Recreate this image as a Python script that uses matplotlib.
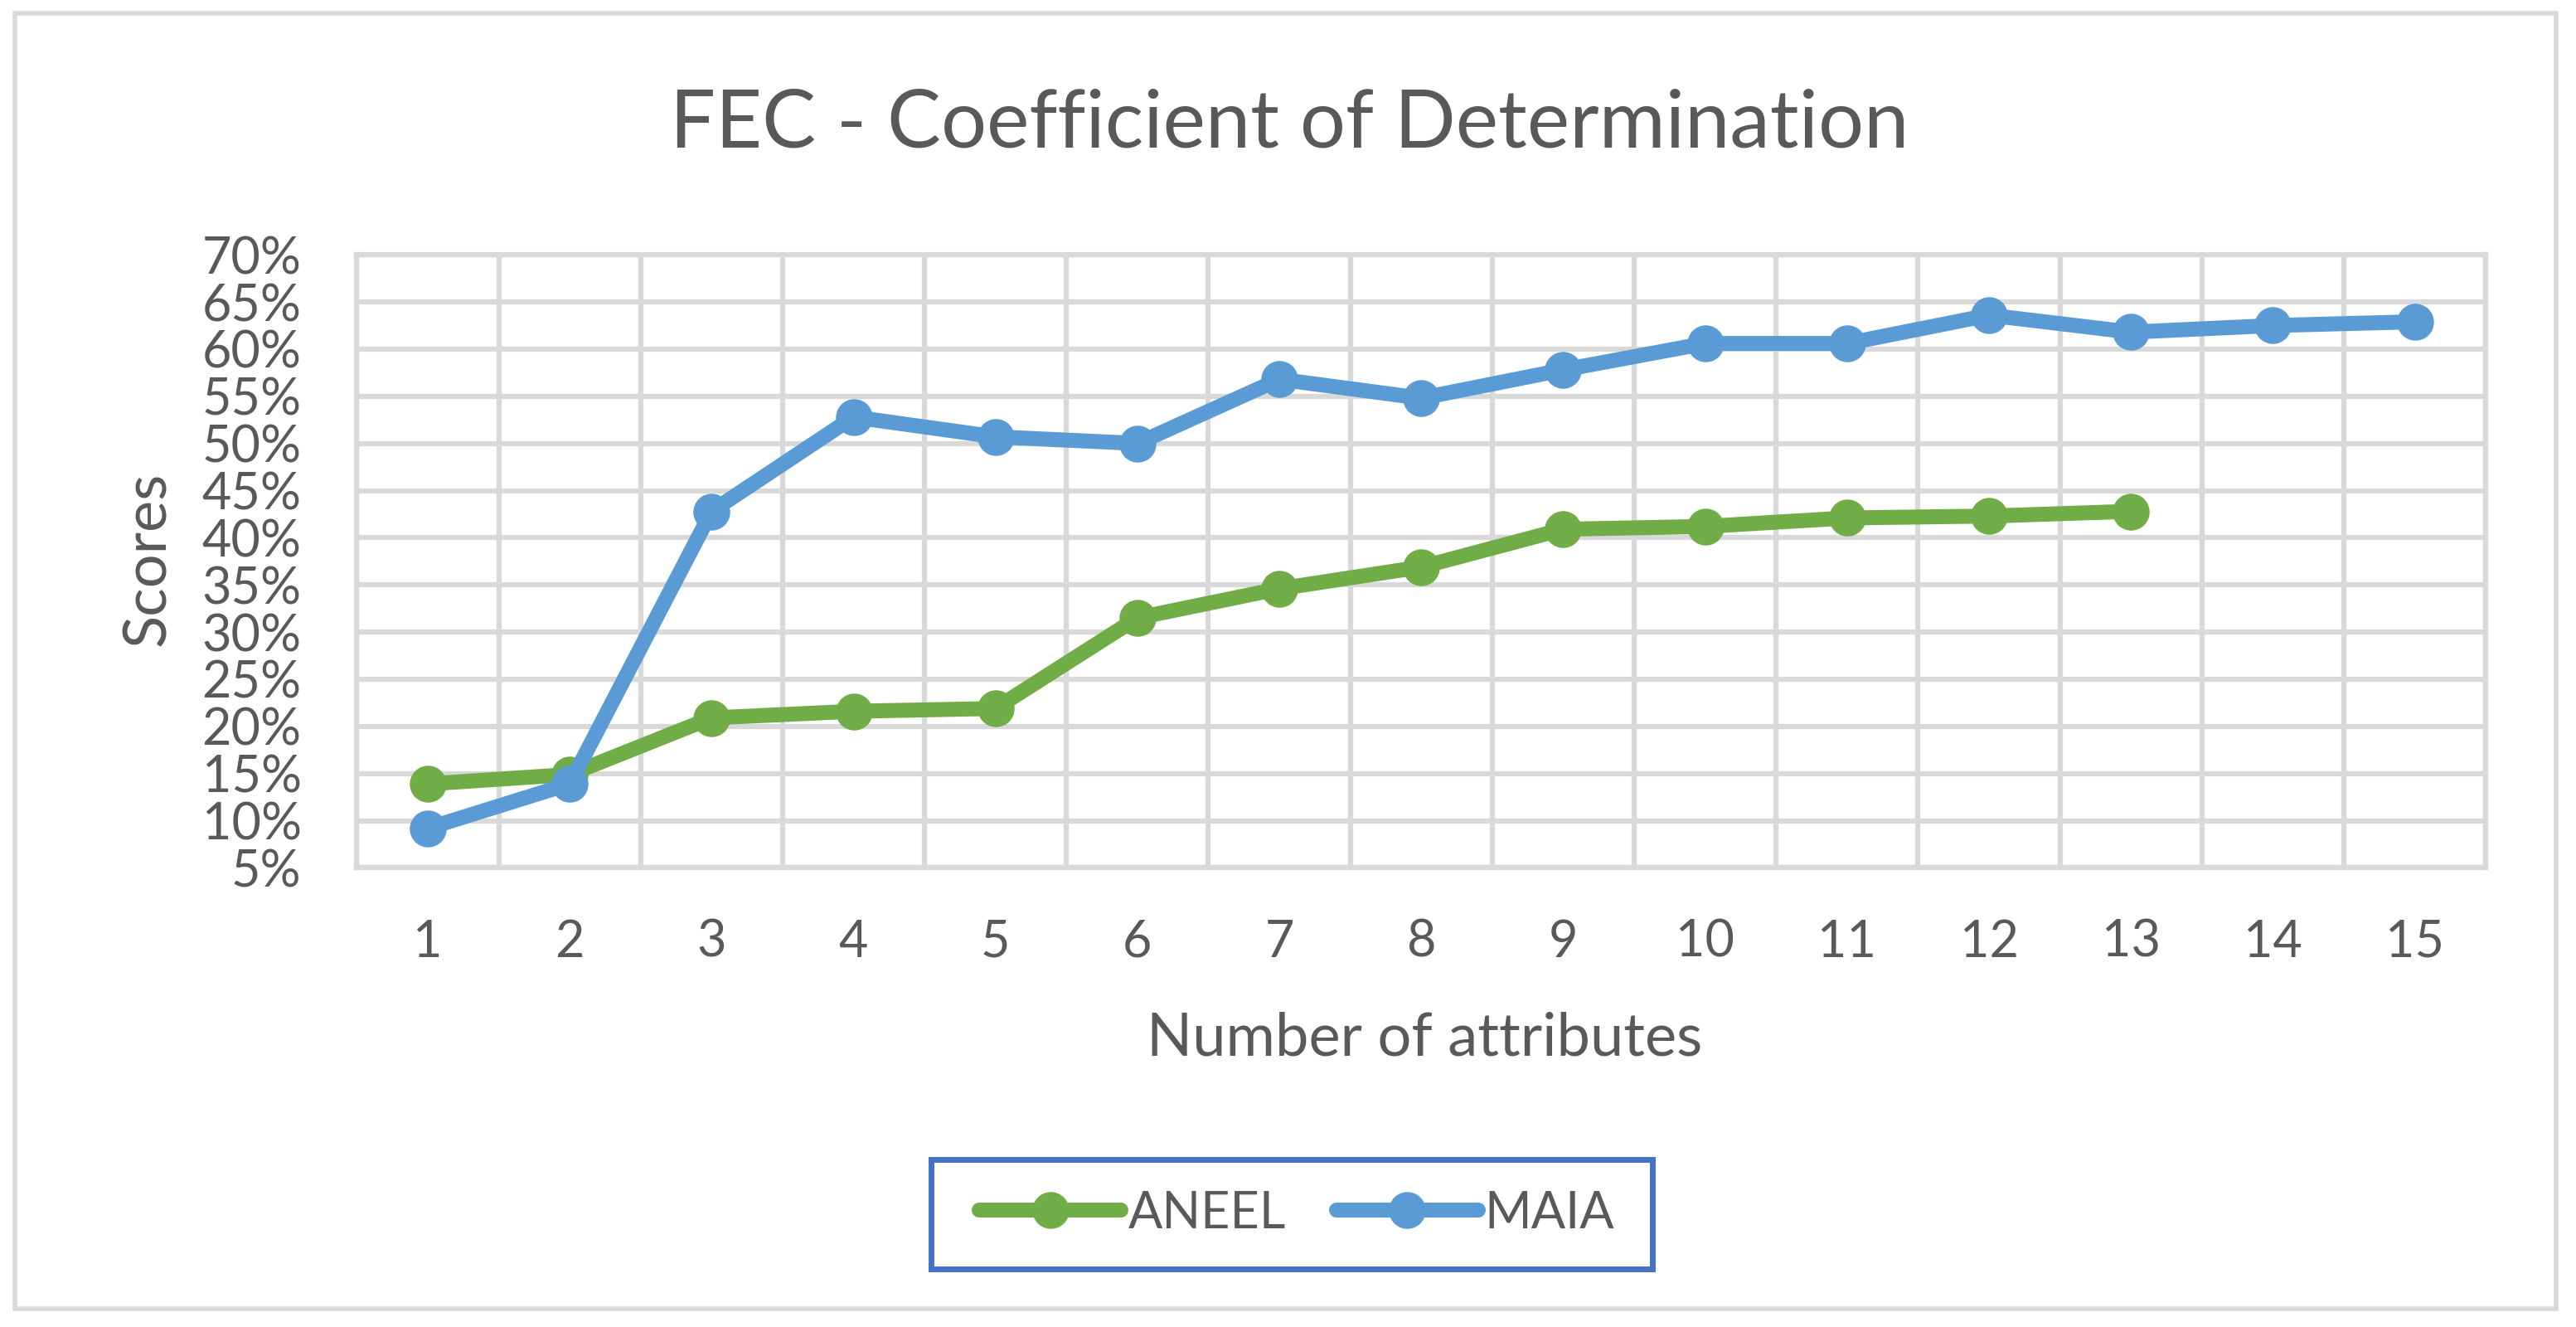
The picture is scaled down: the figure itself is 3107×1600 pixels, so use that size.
import numpy as np
import matplotlib
matplotlib.use("Agg")
import matplotlib.pyplot as plt
from matplotlib.patches import Rectangle
from matplotlib.ticker import FuncFormatter, MultipleLocator

plt.rcParams['font.family'] = ['Lato', 'DejaVu Sans']

# data
attributes = list(range(1, 16))
aneel = [13.9, 14.9, 20.9, 21.6, 21.9, 31.5, 34.6, 36.9, 40.9, 41.2, 42.1, 42.3, 42.8]
maia = [9.2, 13.9, 42.8, 52.8, 50.7, 50.0, 56.8, 54.8, 57.8, 60.6, 60.6, 63.6, 61.8, 62.5, 62.9]
series_names = ["ANEEL", "MAIA"]

title = "FEC - Coefficient of Determination"
xlabel = "Number of attributes"
ylabel = "Scores"

green = "#70AD47"
blue = "#5B9BD5"
grid_col = "#D9D9D9"
text_col = "#595959"

fig = plt.figure(figsize=(31.07, 16), dpi=100)
ax = fig.add_axes([0.1385, 0.346, 0.8265, 0.462])

# outer chart border
fig.patches.append(Rectangle((0.0058, 0.014), 0.9866, 0.976, transform=fig.transFigure,
                             fill=False, edgecolor=grid_col, linewidth=4))

ax.plot(attributes[:len(aneel)], aneel, color=green, lw=13, marker='o', ms=31,
        label=series_names[0], solid_capstyle='round', zorder=3)
ax.plot(attributes[:len(maia)], maia, color=blue, lw=13, marker='o', ms=31,
        label=series_names[1], solid_capstyle='round', zorder=3)

ax.set_xlim(0.5, 15.5)
ax.set_ylim(5, 70)
ax.set_xticks(attributes)
ax.xaxis.set_minor_locator(MultipleLocator(1, offset=0.5))
ax.yaxis.set_major_locator(MultipleLocator(5))
ax.yaxis.set_major_formatter(FuncFormatter(lambda v, p: f"{v:.0f}%"))

ax.grid(which='minor', axis='x', color=grid_col, lw=4.5)
ax.grid(which='major', axis='y', color=grid_col, lw=4.5)
ax.set_axisbelow(True)
for s in ax.spines.values():
    s.set_color(grid_col)
    s.set_linewidth(4.5)

ax.tick_params(axis='both', which='both', length=0, labelsize=44, labelcolor=text_col)
ax.tick_params(axis='x', pad=44)
ax.tick_params(axis='y', pad=48)

fig.text(0.5005, 0.906, title, ha='center', va='center', fontsize=70, color=text_col)
fig.text(0.553, 0.2175, xlabel, ha='center', va='center', fontsize=52, color=text_col)
fig.text(0.0574, 0.579, ylabel, ha='center', va='center', rotation=90, fontsize=52,
         color=text_col)

# legend box drawn separately so its padding can match the reference
fig.patches.append(Rectangle((0.3614, 0.04375), 0.28, 0.0825, transform=fig.transFigure,
                             fill=False, edgecolor="#4472C4", linewidth=5))
leg = fig.legend(loc='center', bbox_to_anchor=(0.5035, 0.0855), ncol=2, fontsize=44,
                 frameon=False, handlelength=2.8, handletextpad=0.13,
                 columnspacing=1.0, borderpad=0, labelcolor=text_col)

fig.savefig("out.png", dpi=100)
